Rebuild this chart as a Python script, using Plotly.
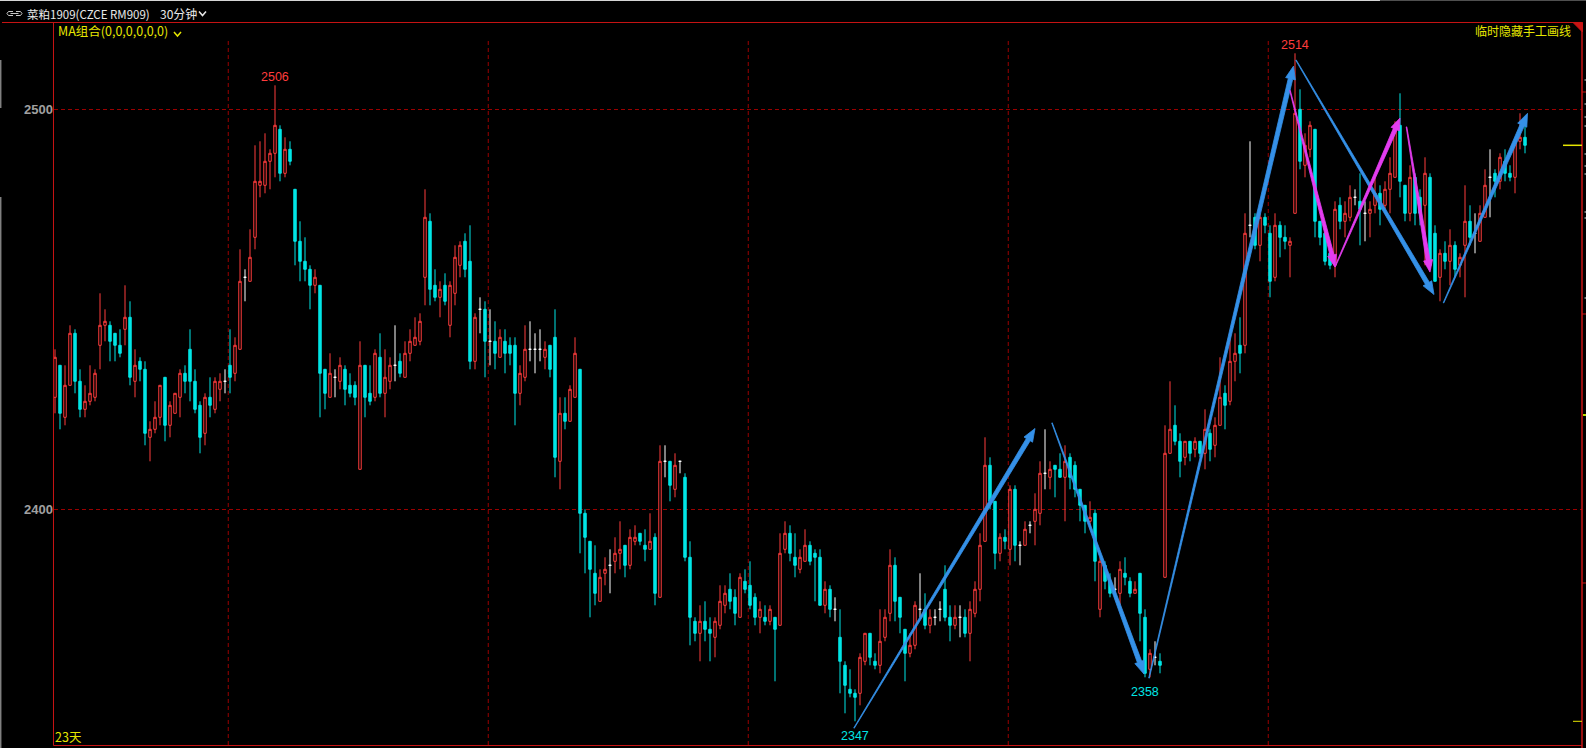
import math
import plotly.graph_objects as go

# ---------------- data (30-minute bars, 菜粕1909) ----------------
open_ = [
    2428, 2436, 2423, 2431, 2444, 2432, 2425, 2427, 2428, 2441,
    2446, 2446, 2444, 2441, 2445, 2448, 2432, 2437, 2435, 2418,
    2420, 2423, 2433, 2421, 2424, 2428, 2434, 2440, 2432, 2426,
    2419, 2428, 2425, 2430, 2432, 2436, 2434, 2440, 2458, 2457,
    2468, 2481, 2481, 2487, 2489, 2495, 2484, 2490, 2480, 2467,
    2462, 2460, 2456, 2456, 2435, 2428, 2433, 2432, 2435, 2431,
    2431, 2410, 2436, 2429, 2428, 2438, 2429, 2432, 2436, 2437,
    2433, 2439, 2441, 2442, 2458, 2472, 2456, 2453, 2456, 2446,
    2454, 2461, 2467, 2462, 2437, 2450, 2450, 2442, 2442, 2438,
    2442, 2441, 2441, 2429, 2433, 2440, 2440, 2440, 2438, 2441,
    2443, 2412, 2424, 2422, 2428, 2435, 2399, 2392, 2384, 2377,
    2384, 2386, 2387, 2389, 2391, 2386, 2392, 2394, 2391, 2390,
    2393, 2378, 2412, 2412, 2405, 2412, 2408, 2388, 2372, 2369,
    2372, 2370, 2368, 2371, 2376, 2380, 2378, 2373, 2382, 2381,
    2378, 2373, 2373, 2372, 2373, 2371, 2390, 2394, 2388, 2385,
    2387, 2391, 2389, 2388, 2376, 2380, 2375, 2368, 2361, 2355,
    2354, 2354, 2362, 2369, 2362, 2361, 2368, 2374, 2386, 2378,
    2370, 2364, 2366, 2375, 2375, 2371, 2373, 2375, 2380, 2373,
    2371, 2373, 2373, 2369, 2374, 2380, 2392, 2411, 2402, 2389,
    2393, 2390, 2405, 2391, 2391, 2396, 2397, 2399, 2409, 2408,
    2411, 2410, 2408, 2413, 2411, 2405, 2401, 2397, 2399, 2375,
    2386, 2382, 2380, 2379, 2384, 2382, 2379, 2384, 2373, 2360,
    2363, 2362, 2383, 2414, 2421, 2417, 2413, 2417, 2415, 2417,
    2414, 2419, 2416, 2421, 2429, 2427, 2437, 2441, 2441, 2471,
    2473, 2466, 2473, 2469, 2458, 2471, 2468, 2466, 2474, 2500,
    2486, 2490, 2495, 2472, 2469, 2464, 2461, 2476, 2472, 2473,
    2478, 2477, 2474, 2474, 2476, 2479, 2476, 2480, 2483, 2496,
    2481, 2474, 2483, 2478, 2476, 2483, 2469, 2458, 2464, 2462,
    2466, 2461, 2466, 2472, 2469, 2467, 2473, 2483, 2484, 2482,
    2487, 2484, 2483, 2492, 2493,
]
high = [
    2440, 2436, 2436, 2446, 2445, 2435, 2431, 2436, 2435, 2454,
    2450, 2447, 2444, 2445, 2456, 2452, 2440, 2438, 2437, 2422,
    2427, 2431, 2433, 2427, 2429, 2435, 2436, 2445, 2435, 2427,
    2429, 2433, 2433, 2434, 2435, 2445, 2443, 2465, 2460, 2470,
    2491, 2492, 2494, 2490, 2506, 2496, 2493, 2492, 2480, 2472,
    2468, 2461, 2460, 2456, 2435, 2439, 2435, 2438, 2436, 2434,
    2432, 2442, 2436, 2436, 2440, 2444, 2440, 2438, 2446, 2439,
    2442, 2445, 2448, 2449, 2480, 2474, 2460, 2457, 2459, 2457,
    2466, 2467, 2469, 2471, 2449, 2453, 2452, 2450, 2447, 2445,
    2445, 2443, 2443, 2436, 2446, 2447, 2444, 2445, 2442, 2441,
    2450, 2428, 2428, 2431, 2443, 2435, 2400, 2392, 2391, 2385,
    2388, 2390, 2393, 2397, 2391, 2395, 2396, 2394, 2395, 2399,
    2394, 2416, 2416, 2412, 2414, 2412, 2409, 2392, 2373, 2376,
    2377, 2373, 2373, 2381, 2381, 2384, 2380, 2384, 2385, 2387,
    2379, 2377, 2376, 2376, 2373, 2394, 2397, 2396, 2394, 2390,
    2395, 2392, 2390, 2390, 2382, 2381, 2378, 2375, 2362, 2360,
    2355, 2364, 2369, 2369, 2364, 2375, 2375, 2390, 2388, 2378,
    2370, 2369, 2377, 2384, 2379, 2375, 2375, 2377, 2386, 2376,
    2376, 2376, 2375, 2377, 2382, 2394, 2418, 2413, 2402, 2394,
    2395, 2406, 2406, 2392, 2397, 2397, 2404, 2412, 2420, 2412,
    2411, 2414, 2416, 2414, 2412, 2405, 2401, 2402, 2400, 2388,
    2387, 2384, 2383, 2387, 2388, 2383, 2382, 2384, 2375, 2365,
    2367, 2364, 2421, 2432, 2426, 2419, 2417, 2417, 2418, 2417,
    2425, 2420, 2423, 2438, 2431, 2444, 2444, 2448, 2474, 2492,
    2474, 2474, 2474, 2471, 2474, 2472, 2471, 2468, 2514, 2505,
    2494, 2497, 2495, 2472, 2470, 2466, 2477, 2478, 2477, 2481,
    2480, 2484, 2477, 2477, 2483, 2481, 2482, 2488, 2497, 2504,
    2481, 2486, 2484, 2480, 2488, 2484, 2471, 2465, 2467, 2470,
    2467, 2464, 2481, 2476, 2474, 2476, 2485, 2490, 2485, 2489,
    2490, 2486, 2492, 2499, 2497,
]
low = [
    2424, 2420, 2421, 2431, 2429, 2423, 2423, 2426, 2427, 2435,
    2442, 2437, 2437, 2438, 2441, 2431, 2428, 2432, 2416, 2412,
    2419, 2421, 2417, 2418, 2424, 2423, 2429, 2427, 2424, 2414,
    2416, 2423, 2424, 2427, 2429, 2429, 2432, 2440, 2452, 2457,
    2465, 2478, 2479, 2480, 2483, 2482, 2483, 2486, 2461, 2457,
    2457, 2450, 2454, 2423, 2425, 2428, 2428, 2430, 2426, 2428,
    2426, 2410, 2423, 2426, 2427, 2428, 2423, 2430, 2432, 2433,
    2433, 2437, 2441, 2441, 2451, 2451, 2452, 2448, 2451, 2443,
    2451, 2458, 2458, 2435, 2435, 2444, 2433, 2436, 2435, 2438,
    2434, 2436, 2421, 2426, 2432, 2437, 2434, 2437, 2435, 2433,
    2408, 2405, 2420, 2422, 2428, 2389, 2384, 2373, 2376, 2377,
    2381, 2379, 2384, 2385, 2383, 2385, 2391, 2391, 2387, 2390,
    2376, 2378, 2408, 2402, 2403, 2409, 2387, 2366, 2367, 2362,
    2367, 2362, 2363, 2370, 2374, 2375, 2371, 2373, 2379, 2375,
    2371, 2369, 2371, 2371, 2357, 2371, 2389, 2387, 2383, 2384,
    2387, 2386, 2377, 2376, 2374, 2373, 2372, 2354, 2349, 2353,
    2347, 2351, 2361, 2361, 2360, 2359, 2367, 2372, 2372, 2369,
    2357, 2363, 2365, 2373, 2370, 2369, 2371, 2372, 2372, 2367,
    2370, 2368, 2368, 2362, 2373, 2377, 2392, 2400, 2385, 2387,
    2390, 2386, 2387, 2386, 2391, 2394, 2391, 2396, 2405, 2405,
    2403, 2408, 2397, 2405, 2403, 2397, 2394, 2395, 2382, 2373,
    2380, 2378, 2379, 2376, 2381, 2378, 2379, 2367, 2358, 2358,
    2361, 2359, 2383, 2414, 2416, 2408, 2411, 2412, 2413, 2413,
    2410, 2412, 2413, 2421, 2420, 2426, 2432, 2434, 2439, 2468,
    2465, 2462, 2469, 2453, 2457, 2463, 2465, 2458, 2474, 2485,
    2483, 2488, 2468, 2466, 2461, 2460, 2458, 2470, 2468, 2472,
    2476, 2466, 2467, 2468, 2474, 2471, 2475, 2474, 2483, 2478,
    2472, 2472, 2471, 2471, 2461, 2460, 2457, 2452, 2460, 2456,
    2458, 2458, 2453, 2466, 2464, 2467, 2473, 2473, 2478, 2480,
    2482, 2482, 2479, 2490, 2489,
]
close = [
    2438, 2424, 2431, 2444, 2432, 2425, 2427, 2429, 2434, 2446,
    2447, 2442, 2441, 2439, 2448, 2433, 2436, 2435, 2419, 2420,
    2423, 2431, 2421, 2426, 2429, 2434, 2432, 2432, 2425, 2418,
    2428, 2426, 2432, 2432, 2432, 2433, 2441, 2457, 2458, 2463,
    2482, 2482, 2487, 2489, 2496, 2484, 2490, 2487, 2467, 2462,
    2460, 2456, 2458, 2434, 2429, 2434, 2433, 2436, 2430, 2429,
    2428, 2436, 2428, 2427, 2439, 2429, 2433, 2436, 2436, 2434,
    2439, 2442, 2443, 2447, 2473, 2455, 2453, 2455, 2452, 2456,
    2463, 2466, 2460, 2437, 2448, 2450, 2442, 2442, 2439, 2443,
    2439, 2439, 2429, 2434, 2440, 2440, 2440, 2440, 2440, 2435,
    2413, 2424, 2422, 2430, 2439, 2399, 2393, 2385, 2379, 2383,
    2385, 2386, 2389, 2390, 2386, 2393, 2393, 2392, 2390, 2392,
    2379, 2412, 2412, 2406, 2411, 2412, 2388, 2373, 2369, 2372,
    2370, 2369, 2372, 2377, 2379, 2377, 2374, 2383, 2380, 2376,
    2373, 2375, 2372, 2375, 2370, 2389, 2394, 2389, 2386, 2388,
    2391, 2387, 2388, 2376, 2380, 2375, 2375, 2362, 2356, 2354,
    2353, 2363, 2369, 2363, 2361, 2367, 2373, 2386, 2377, 2373,
    2364, 2366, 2376, 2375, 2371, 2373, 2373, 2375, 2373, 2371,
    2373, 2373, 2369, 2375, 2380, 2391, 2411, 2402, 2389, 2393,
    2392, 2405, 2391, 2391, 2395, 2396, 2400, 2409, 2409, 2410,
    2410, 2408, 2412, 2408, 2405, 2401, 2397, 2398, 2387, 2387,
    2382, 2379, 2380, 2385, 2383, 2379, 2380, 2374, 2359, 2364,
    2363, 2361, 2414, 2420, 2417, 2412, 2417, 2414, 2417, 2414,
    2420, 2415, 2421, 2428, 2426, 2437, 2439, 2439, 2469, 2471,
    2466, 2473, 2471, 2457, 2471, 2468, 2467, 2467, 2499, 2487,
    2491, 2496, 2472, 2468, 2462, 2461, 2475, 2472, 2474, 2478,
    2478, 2475, 2474, 2475, 2479, 2475, 2480, 2484, 2496, 2482,
    2474, 2483, 2474, 2474, 2484, 2461, 2457, 2464, 2462, 2466,
    2460, 2463, 2472, 2468, 2469, 2474, 2481, 2483, 2482, 2488,
    2484, 2483, 2492, 2493, 2491,
]
price_ticks = [2400, 2500]
day_breaks = [35, 87, 139, 191, 243]          # first bar of a new group
peak_labels = [(44, "2506"), (248, "2514")]
trough_labels = [(160, "2347"), (218, "2358")]
# hand-drawn arrows: (start bar, start price, end bar, end price)
blue_arrows = [
    (159.8, 2345.3, 196.0, 2420.2),
    (199.4, 2421.6, 217.8, 2358.8),
    (218.8, 2357.8, 247.7, 2510.8),
    (248.2, 2512.3, 275.8, 2453.7),
    (277.7, 2451.6, 294.5, 2499.0),
]
magenta_arrows = [
    (247.0, 2504.7, 256.0, 2460.6),
    (256.0, 2460.6, 269.0, 2497.8),
    (270.3, 2495.6, 275.0, 2459.3),
]

# ---------------- layout constants ----------------
W, H = 1586, 748
ML, MR, MT, MB = 54, 4, 22, 3
PW, PH = W - ML - MR, H - MT - MB
X_RANGE = [-0.2, 305.4]
Y_RANGE = [2341.075, 2521.825]
RED = "#ff3c3c"
CYAN = "#00e6e6"
FRAME = "#c81414"
GRID = "#9a0000"
YEL = "#e6e600"
BLUE = "#3591e8"
MAG = "#e43cf0"
CJK = "Noto Sans CJK SC"
LAT = "Liberation Sans"

n = len(close)
idx = list(range(n))
up = [i for i in idx if close[i] > open_[i]]
dn = [i for i in idx if close[i] < open_[i]]
dj = [i for i in idx if close[i] == open_[i]]


def pick(arr, sel):
    return [arr[i] for i in sel]


fig = go.Figure()


def candle(sel, inc_line, inc_fill, dec_line, dec_fill):
    fig.add_trace(go.Candlestick(
        x=sel, open=pick(open_, sel), high=pick(high, sel),
        low=pick(low, sel), close=pick(close, sel),
        increasing=dict(line=dict(color=inc_line, width=1), fillcolor=inc_fill),
        decreasing=dict(line=dict(color=dec_line, width=1), fillcolor=dec_fill),
        whiskerwidth=0, hoverinfo="skip", showlegend=False))


candle(up, RED, "#000000", RED, "#000000")
candle(dn, CYAN, CYAN, CYAN, CYAN)
candle(dj, "#ffffff", "#ffffff", "#ffffff", "#ffffff")

# ---------------- tapered arrows ----------------
SX = PW / (X_RANGE[1] - X_RANGE[0])
SY = PH / (Y_RANGE[1] - Y_RANGE[0])


def add_arrow(x0, y0, x1, y1, color, w0=0.6, w1=4.5, hl=13, hw=10):
    ax, ay = x0 * SX, -y0 * SY
    bx, by = x1 * SX, -y1 * SY
    dx, dy = bx - ax, by - ay
    L = math.hypot(dx, dy)
    ux, uy = dx / L, dy / L
    nx, ny = -uy, ux
    cx, cy = bx - ux * hl, by - uy * hl
    pts = [
        (ax + nx * w0 / 2, ay + ny * w0 / 2),
        (cx + nx * w1 / 2, cy + ny * w1 / 2),
        (cx + nx * hw / 2, cy + ny * hw / 2),
        (bx, by),
        (cx - nx * hw / 2, cy - ny * hw / 2),
        (cx - nx * w1 / 2, cy - ny * w1 / 2),
        (ax - nx * w0 / 2, ay - ny * w0 / 2),
    ]
    pts.append(pts[0])
    fig.add_trace(go.Scatter(
        x=[p[0] / SX for p in pts], y=[-p[1] / SY for p in pts],
        mode="lines", fill="toself", fillcolor=color,
        line=dict(color=color, width=0.8), hoverinfo="skip", showlegend=False))


for a in blue_arrows:
    add_arrow(*a, BLUE)
for a in magenta_arrows:
    add_arrow(*a, MAG, w1=4.0, hl=12, hw=9)

# ---------------- price labels ----------------
for i, t in peak_labels:
    fig.add_annotation(x=i, y=high[i], text=t, showarrow=False, yanchor="middle",
                       yshift=8, font=dict(family=LAT, size=12.5, color=RED))
for i, t in trough_labels:
    fig.add_annotation(x=i, y=low[i], text=t, showarrow=False, yanchor="middle",
                       yshift=-15, font=dict(family=LAT, size=12.5, color=CYAN))


# ---------------- helpers in pixel space ----------------
def paper(px, py):
    return (px - ML) / PW, (H - MB - py) / PH


def ptext(txt, px, py, color, size=12, anchor="left", family=CJK):
    xp, yp = paper(px, py)
    fig.add_annotation(x=xp, y=yp, xref="paper", yref="paper", text=txt,
                       showarrow=False, xanchor=anchor, yanchor="middle",
                       borderpad=0, font=dict(family=family, size=size, color=color))


def ppath(points, color, width=1, fill=None):
    d = ""
    for k, (px, py) in enumerate(points):
        xp, yp = paper(px, py)
        d += ("M" if k == 0 else "L") + f"{xp:.5f},{yp:.5f} "
    if fill:
        d += "Z"
    fig.add_shape(type="path", path=d, xref="paper", yref="paper",
                  line=dict(color=color, width=width),
                  fillcolor=fill if fill else None, layer="above")


# day separators (dashed verticals start below the MA line)
for b in day_breaks:
    fig.add_shape(type="line", xref="x", yref="paper", x0=b - 0.35, x1=b - 0.35,
                  y0=0, y1=paper(0, 40)[1], line=dict(color=GRID, width=1, dash="4px,3px"),
                  layer="below")

# frame
ppath([(2, 22.5), (1582, 22.5)], FRAME)
ppath([(53.5, 22.5), (53.5, 745.5)], FRAME)
ppath([(53.5, 745.5), (1582, 745.5)], FRAME)
ppath([(1582, 22.5), (1582, 748)], FRAME, width=1.5)
ppath([(1573, 22.5), (1582.5, 22.5), (1582.5, 32)], FRAME, fill=FRAME)
for yy in (92, 314, 583):
    ppath([(1582, yy), (1586, yy)], FRAME)
for yy in (80, 104, 117, 126, 154, 166, 174, 212, 218, 298):
    ppath([(1584.5, yy), (1586, yy)], "#e0e0e0")
ppath([(1583, 415), (1586, 415)], "#b8d800", width=2)

# window chrome
ppath([(0, 0.5), (1380, 0.5)], "#d8d8d8")
ppath([(1380, 0.5), (1586, 0.5)], "#505050")
ppath([(0.7, 60), (0.7, 108)], "#808080", width=1.5)
ppath([(0.7, 197), (0.7, 748)], "#808080", width=1.5)

# last price / lowest price markers on the right
fig.add_shape(type="line", xref="paper", yref="y", x0=paper(1563, 0)[0], x1=paper(1582, 0)[0],
              y0=close[-1], y1=close[-1], line=dict(color=YEL, width=1.5))
fig.add_shape(type="line", xref="paper", yref="y", x0=paper(1573, 0)[0], x1=paper(1582, 0)[0],
              y0=min(low), y1=min(low), line=dict(color=YEL, width=1))

# header
ppath([(13, 11.5), (8.5, 11.5), (7, 13.5), (8.5, 15.5), (13, 15.5)], "#c8c8c8")
ppath([(16, 11.5), (20.5, 11.5), (22, 13.5), (20.5, 15.5), (16, 15.5)], "#c8c8c8")
ppath([(10.5, 13.5), (18.5, 13.5)], "#c8c8c8")
ptext("菜粕1909(CZCE RM909)", 26, 13.5, "#e8e8e8", size=11.5)
ptext("30分钟", 159, 13.5, "#e8e8e8", size=12)
ppath([(199, 11.5), (202.5, 15.5), (206, 11.5)], "#e8e8e8", width=1.5)

ptext("MA组合(0,0,0,0,0,0)", 57, 31, YEL, size=12.5)
ppath([(174, 32), (177.5, 36), (181, 32)], YEL, width=1.5)
ptext("临时隐藏手工画线", 1572, 31, YEL, size=12, anchor="right")
ptext("23天", 54, 736, YEL, size=12.5)

fig.update_layout(
    width=W, height=H,
    margin=dict(l=ML, r=MR, t=MT, b=MB, pad=0),
    paper_bgcolor="#000000", plot_bgcolor="#000000",
    showlegend=False, boxgap=0.3, boxgroupgap=0.3,
    xaxis=dict(range=X_RANGE, showgrid=False, zeroline=False, showticklabels=False,
               showline=False, ticks="", rangeslider=dict(visible=False), fixedrange=True),
    yaxis=dict(range=Y_RANGE, tickvals=price_ticks, ticktext=[str(v) for v in price_ticks],
               showgrid=True, gridcolor=GRID, griddash="4px,3px", gridwidth=1,
               zeroline=False, showline=False, ticks="",
               tickfont=dict(family=LAT, size=13, color="#a0a0a0", weight="bold"),
               fixedrange=True),
)

fig.write_html(
    "out.html",
    config={"displayModeBar": False},
    post_script="document.body.style.margin='0px';document.body.style.background='#000';",
)
